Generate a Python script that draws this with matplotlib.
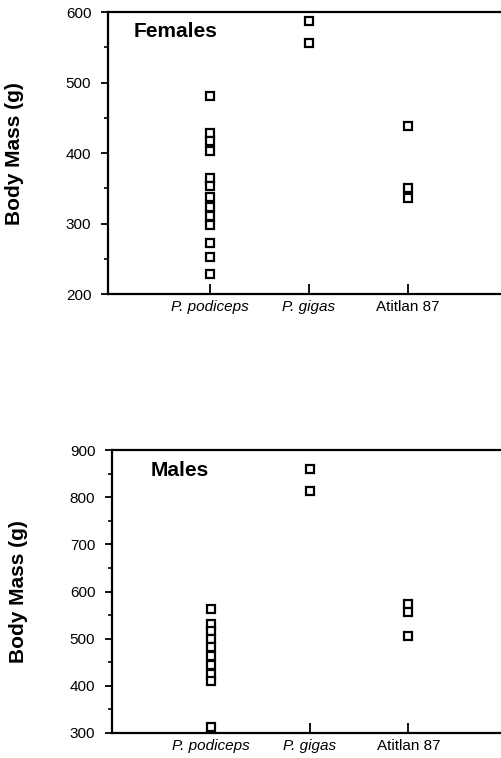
import matplotlib
matplotlib.use("Agg")
import matplotlib.pyplot as plt
from matplotlib.ticker import MultipleLocator

plt.rcParams['font.family'] = ['Liberation Sans', 'DejaVu Sans']

groups = ["P. podiceps", "P. gigas", "Atitlan 87"]
group_x = [1, 2, 3]

# females body mass (g)
fem_podiceps = [481, 428, 417, 403, 365, 353, 338, 323, 311, 298, 273, 253, 229]
fem_gigas = [588, 556]
fem_atitlan = [438, 350, 336]

# males body mass (g)
mal_podiceps = [564, 532, 516, 500, 482, 463, 444, 426, 410, 313]
mal_gigas = [861, 813]
mal_atitlan = [574, 557, 506]

fig = plt.figure(figsize=(5.02, 7.58), dpi=100)


def panel(rect, data, xlim, ylim, label, label_x):
    ax = fig.add_axes(rect)
    for x, vals in zip(group_x, data):
        ax.plot([x] * len(vals), vals, linestyle='none', marker='s', markersize=6,
                markerfacecolor='white', markeredgecolor='black', markeredgewidth=1.6,
                clip_on=False, zorder=3)
    ax.set_xlim(*xlim)
    ax.set_ylim(*ylim)
    ax.yaxis.set_major_locator(MultipleLocator(100))
    ax.yaxis.set_minor_locator(MultipleLocator(50))
    ax.set_xticks(group_x)
    ax.set_xticklabels(groups)
    for lab in ax.get_xticklabels():
        if lab.get_text().startswith("P."):
            lab.set_fontstyle('italic')
    ax.tick_params(axis='x', direction='in', length=7, width=1.3, labelsize=11, pad=4)
    ax.tick_params(axis='y', which='major', direction='out', length=5, width=1.3, labelsize=11, pad=7)
    ax.tick_params(axis='y', which='minor', direction='out', length=3, width=1.2)
    ax.spines['right'].set_visible(False)
    for s in ['left', 'bottom', 'top']:
        ax.spines[s].set_linewidth(1.6)
    ax.set_ylabel("Body Mass (g)", fontsize=15, fontweight='bold', labelpad=30)
    ax.text(label_x, 0.93, label, transform=ax.transAxes, fontsize=15,
            fontweight='bold', va='center', ha='left')
    return ax


panel([0.215, 0.612, 0.79, 0.372], [fem_podiceps, fem_gigas, fem_atitlan],
      (-0.025, 3.975), (200, 600), "Females", 0.066)
panel([0.223, 0.033, 0.78, 0.373], [mal_podiceps, mal_gigas, mal_atitlan],
      (-0.005, 3.965), (300, 900), "Males", 0.10)

fig.savefig("out.png", dpi=100)
